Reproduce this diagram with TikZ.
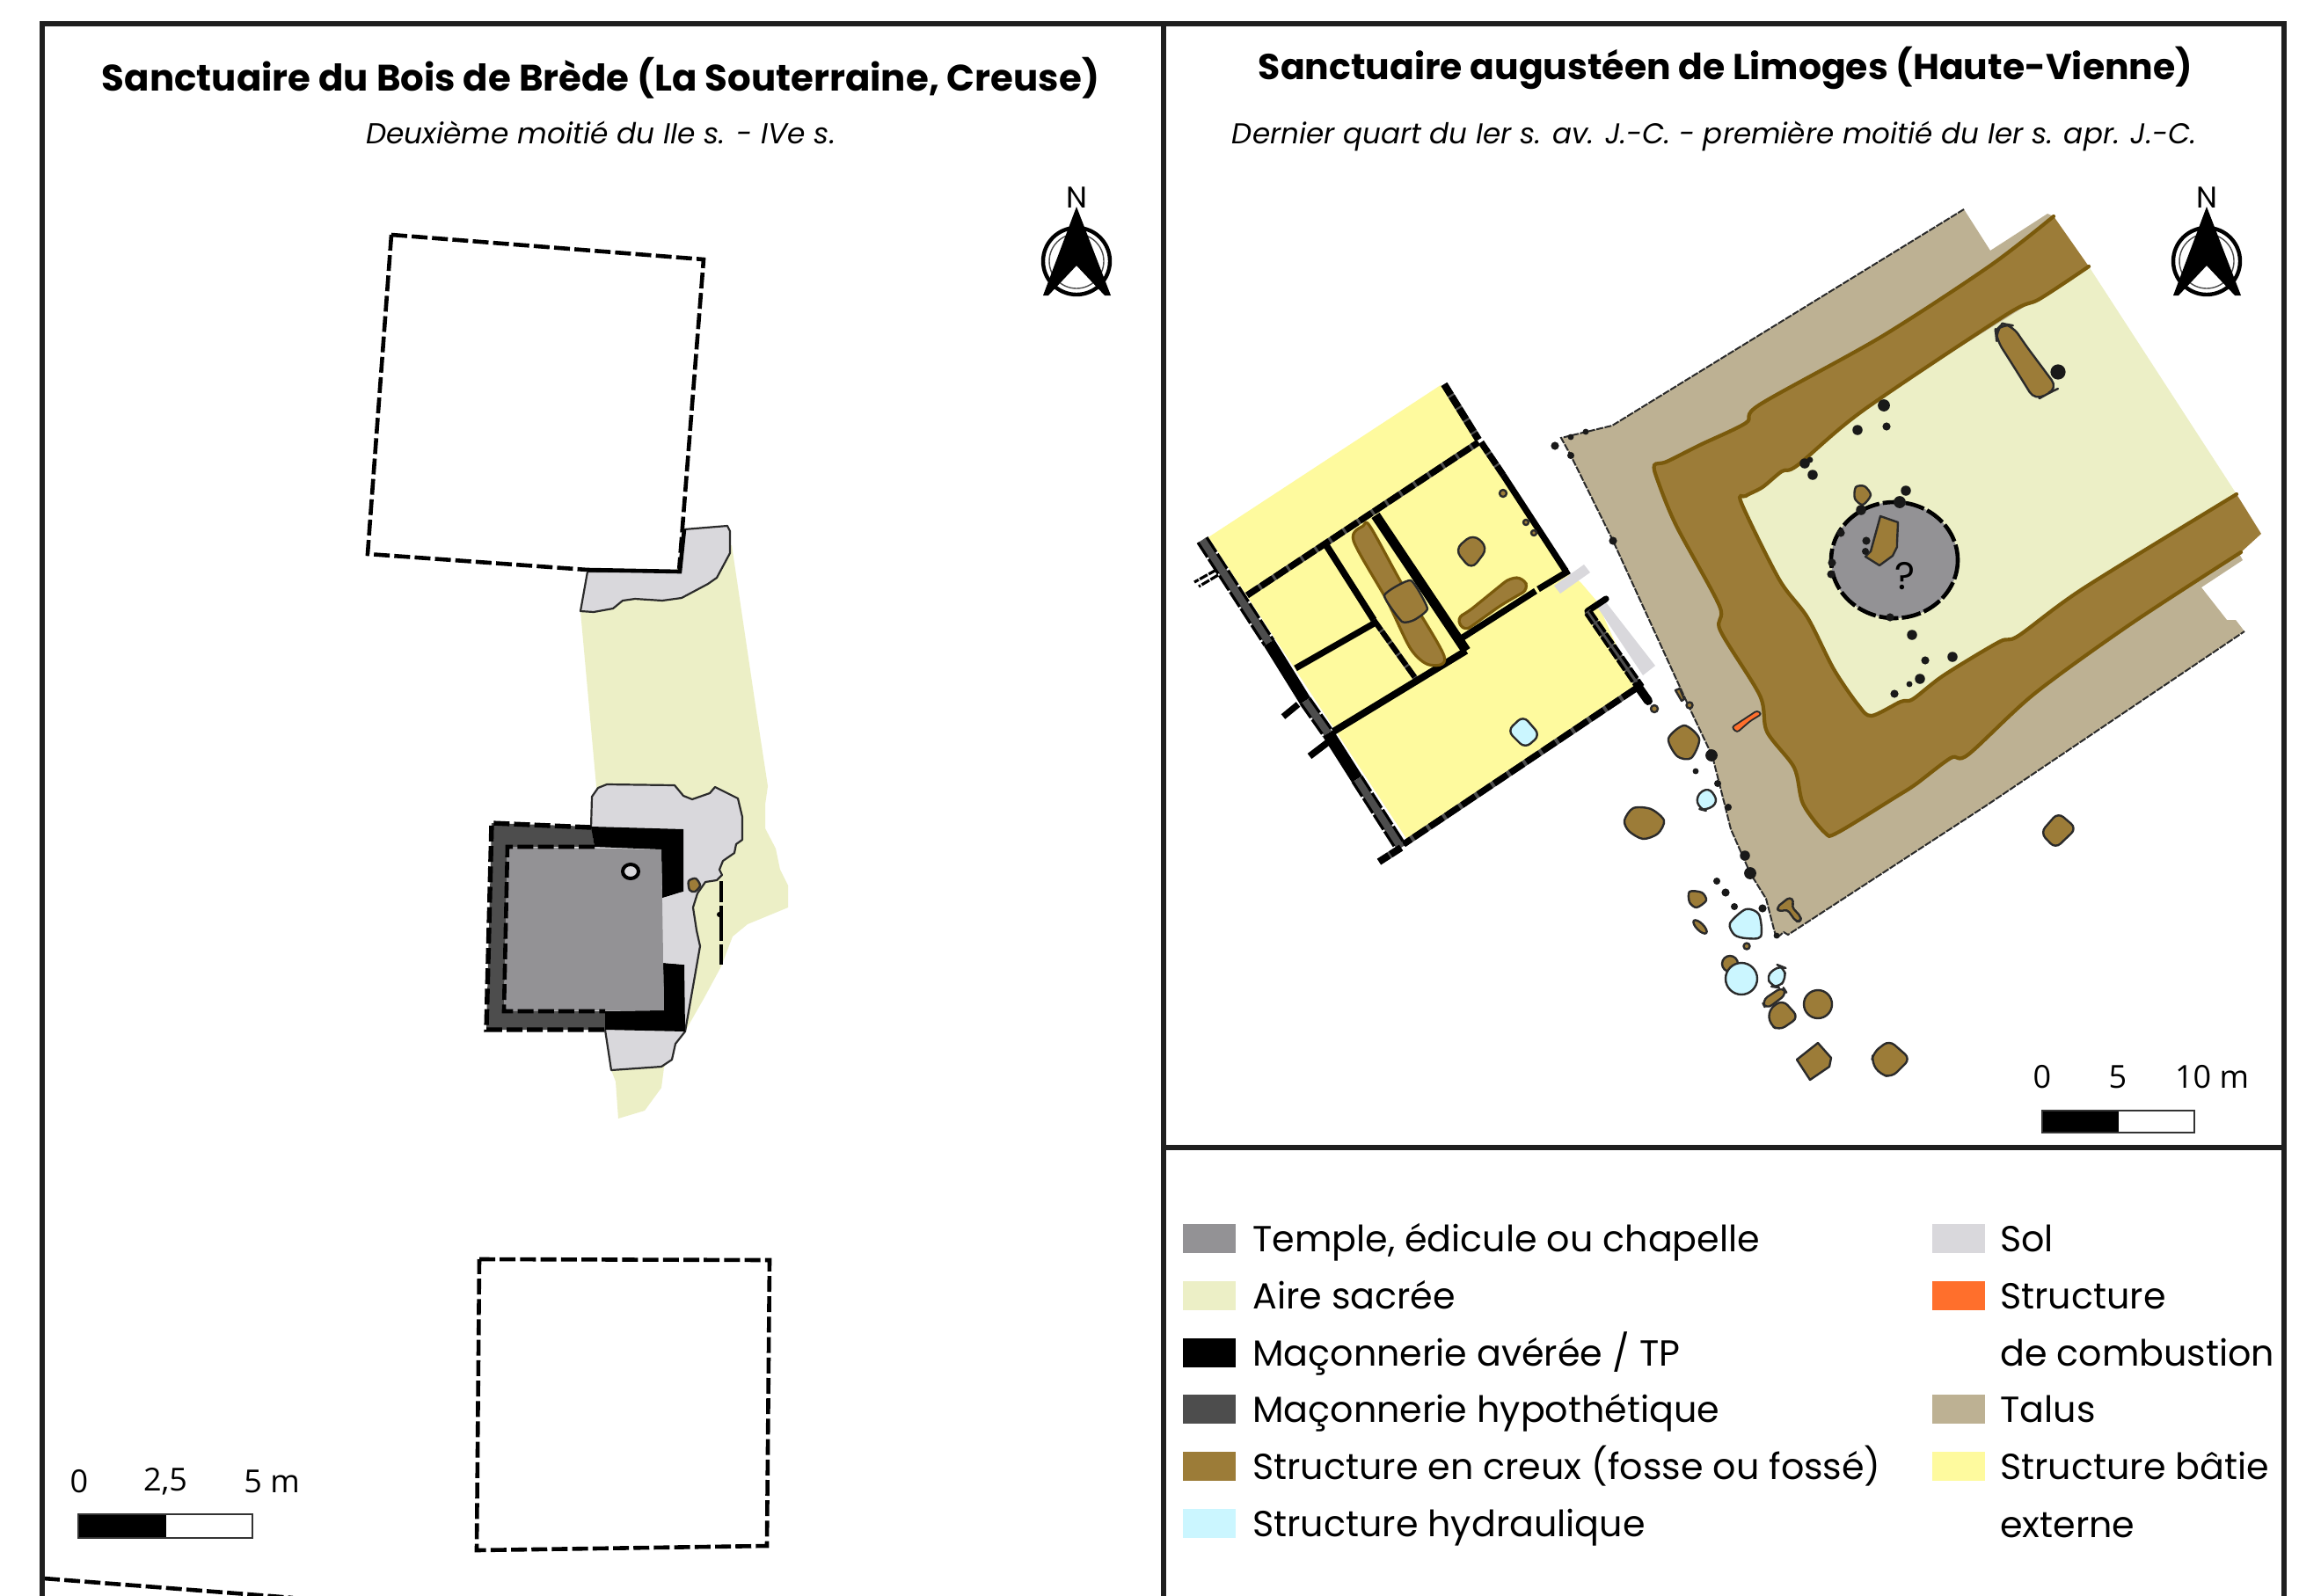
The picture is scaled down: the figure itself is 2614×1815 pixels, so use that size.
\documentclass[tikz,border=0pt]{standalone}
\usepackage{fontspec}
\usepackage{graphicx}
\setmainfont{Poppins}
\newfontfamily\scalefont{Open Sans}
\definecolor{ctemple}{HTML}{939295}
\definecolor{caire}{HTML}{ECEFC6}
\definecolor{cdark}{HTML}{4D4D4D}
\definecolor{cbrown}{HTML}{9C7C38}
\definecolor{cbrownline}{HTML}{7A5A0C}
\definecolor{ccyan}{HTML}{CBF6FF}
\definecolor{csol}{HTML}{D9D8DC}
\definecolor{corange}{HTML}{FF6F2C}
\definecolor{ctalus}{HTML}{BDB193}
\definecolor{cyell}{HTML}{FEFA9E}
\definecolor{cedge}{HTML}{2B2B2B}
\tikzset{
 frameline/.style={line width=3pt,draw=black!88},
 dashwall/.style={draw=black,line width=2.3pt,dash pattern=on 9pt off 2.6pt},
 dashwallb/.style={draw=black,line width=2.7pt,dash pattern=on 9pt off 2.6pt},
 hypwall/.style={draw=cdark,line width=3.6pt},
 hypdash/.style={draw=black,line width=3.6pt,dash pattern=on 7pt off 1.2pt},
 wall/.style={draw=black,line width=3.6pt},
 talusdash/.style={draw=cedge,line width=1pt,dash pattern=on 4pt off 0.8pt},
 solfill/.style={fill=csol,draw=cedge,line width=1.1pt,line join=round},
 blob/.style={fill=cbrown,draw=cedge,line width=1.2pt,line join=round},
 blobb/.style={fill=cbrown,draw=cbrownline,line width=1.6pt,line join=round},
 fosse/.style={draw=cbrownline,line width=2.1pt,line cap=round},
 cyanblob/.style={fill=ccyan,draw=cedge,line width=1.2pt,line join=round},
 dotc/.style={fill=black!90},
 swatch/.style={minimum width=30pt,minimum height=16.5pt,inner sep=0pt,anchor=west},
 legtext/.style={anchor=base west,inner sep=0pt,font=\fontsize{20.6pt}{22pt}\selectfont},
 scalelab/.style={inner sep=0pt,font=\scalefont\fontsize{18pt}{20pt}\selectfont},
 titlelab/.style={inner sep=0pt,anchor=base},
}
\begin{document}
\begin{tikzpicture}[x=0.5pt,y=-0.5pt]
\path[use as bounding box,fill=white] (0,0) rectangle (2614,1815);

% ---- left map ----
\draw[dashwall] (445,267) -- (800,295) -- (772,650);
\draw[dashwall] (445,267) -- (418,630) -- (668,648);
\fill[caire] (660,695) -- (678,894) -- (700,1150) -- (695,1217) -- (700,1230) -- (703,1272) -- (733,1263) -- (752,1237) -- (755,1214) -- (768,1187) -- (780,1171) -- (800,1136) -- (820,1099) -- (833,1065) -- (850,1051) -- (896,1032) -- (896,1007) -- (887,989) -- (882,965) -- (870,942) -- (870,915) -- (873,894) -- (860,809) -- (832,620) -- cycle;
\draw[solfill] (668,650) -- (660,695) -- (675,696) -- (697,692) -- (708,683) -- (722,681) -- (753,683) -- (775,680) -- (805,664) -- (815,657) -- (830,629) -- (830,604) -- (827,598) -- (778,602) -- (773,650) -- cycle;
\draw[wall,line width=2.3pt] (668,648) -- (773,650) -- (778,602);
\draw[solfill] (672,942) -- (673,906) -- (680,896) -- (690,892) -- (767,893) -- (777,905) -- (787,909) -- (807,902) -- (813,895) -- (839,908) -- (844,929) -- (844,955) -- (837,960) -- (835,970) -- (822,979) -- (818,989) -- (821,995) -- (815,1001) -- (802,1003) -- (793,1016) -- (788,1032) -- (792,1058) -- (796,1076) -- (779,1173) -- (768,1187) -- (764,1205) -- (752,1213) -- (695,1217) -- (688,1171) -- cycle;
\fill[cdark] (559,936) -- (672,940) -- (676,963) -- (577,963) -- (573,1150) -- (688,1150) -- (688,1171) -- (553,1171) -- cycle;
\fill[black] (672,940) -- (777,943) -- (777,1014) -- (753,1021) -- (752,966) -- (676,963) -- cycle;
\fill[black] (754,1095) -- (778,1097) -- (779,1173) -- (688,1171) -- (688,1150) -- (755,1149) -- cycle;
\fill[ctemple] (577,963) -- (752,966) -- (755,1149) -- (573,1150) -- cycle;
\fill[csol] (755,1021) -- (773,1015) -- (778,1014) -- (778,1097) -- (754,1095) -- cycle;
\draw[dashwallb] (672,941) -- (559,936) -- (553,1171) -- (688,1171);
\draw[dashwall] (676,963) -- (577,963) -- (573,1150) -- (688,1150);
\draw[draw=black,line width=2pt,fill=csol] (717,991) ellipse [x radius=9,y radius=8];
\draw[blob] plot[smooth cycle] coordinates {(783,1002) (791,999) (796,1007) (790,1014) (784,1012)};
\draw[dashwall,dash pattern=on 12pt off 2pt on 20pt off 2pt on 20pt off 2pt] (820,1002) -- (820,1097);
\fill[black] (818,1040) circle [radius=3];
\draw[dashwall] (545,1432) -- (875,1433) -- (872,1758) -- (542,1763) -- cycle;
\draw[dashwall] (50,1795) -- (333,1817);
% scale left
\fill[black] (89,1722) rectangle (189,1749);
\draw[draw=black!80,line width=1pt] (89,1722) rectangle (287,1749);
\node[scalelab] (sl0) at (90,1685) {0};
\node[scalelab] (sl1) at (188,1685) {2,5};
\node[scalelab,anchor=west] (sl2) at (277,1685) {5 m};
% north left
\draw[draw=black,line width=2.2pt] (1224,297) circle [radius=38];
\draw[draw=black!70,line width=0.7pt] (1224,297) circle [radius=31];
\fill[black] (1224,235) -- (1263,336) -- (1256,336) -- (1224,302) -- (1192,336) -- (1186,336) -- cycle;
\node[inner sep=0pt,font=\fontsize{17pt}{18pt}\selectfont] (nl) at (1224,225) {N};

% ---- right map ----
\draw[fill=ctalus,draw=none] (2233,238) -- (2263,285) -- (2328,243) -- (2335,246) -- (2550,637) -- (2503,668) -- (2532,705) -- (2542,705) -- (2552,718) -- (2260,915) -- (2033,1063) -- (2028,1060) -- (2020,1067) -- (2017,1057) -- (2008,1022) -- (1990,993) -- (1968,943) -- (1963,923) -- (1947,860) -- (1920,803) -- (1834,615) -- (1786,518) -- (1775,498) -- (1833,484) -- cycle;
\draw[talusdash] (2233,238) -- (1833,484) -- (1775,498) -- (1786,518) -- (1834,615) -- (1920,803) -- (1947,860) -- (1963,923) -- (1968,943) -- (1990,993) -- (2008,1022) -- (2017,1057) -- (2020,1067) -- (2028,1060) -- (2033,1063) -- (2260,915) -- (2552,718);
\fill[caire] (2375,303) -- (2543,562) -- (2128,830) -- (1965,560) -- cycle;
\fill[cbrown] plot[smooth] coordinates {(2335,246) (2263,302) (2139,383) (2001,460) (1985,481) (1933,506) (1895,525) (1881,529) (1885,547) (1906,598) (1955,689) (1956,717) (2001,791) (2009,832) (2040,873) (2050,914) (2075,947) (2089,947) (2156,906) (2178,892) (2218,862) (2238,858) (2313,789) (2422,710) (2548,628)} -- (2571,607) -- plot[smooth] coordinates {(2543,562) (2369,669) (2295,723) (2273,730) (2210,768) (2175,795) (2161,798) (2128,814) (2113,802) (2085,761) (2055,702) (2023,659) (1980,572) (1985,564) (2004,554) (2026,536) (2044,529) (2118,467) (2281,358) (2319,340) (2375,303)} -- cycle;
\draw[fosse] plot[smooth] coordinates {(2335,246) (2263,302) (2139,383) (2001,460) (1985,481) (1933,506) (1895,525) (1881,529) (1885,547) (1906,598) (1955,689) (1956,717) (2001,791) (2009,832) (2040,873) (2050,914) (2075,947) (2089,947) (2156,906) (2178,892) (2218,862) (2238,858) (2313,789) (2422,710) (2548,628)};
\draw[fosse] plot[smooth] coordinates {(2543,562) (2369,669) (2295,723) (2273,730) (2210,768) (2175,795) (2161,798) (2128,814) (2113,802) (2085,761) (2055,702) (2023,659) (1980,572) (1985,564) (2004,554) (2026,536) (2044,529) (2118,467) (2281,358) (2319,340) (2375,303)};
% temple circle
\draw[fill=ctemple,draw=black,line width=2.3pt,dash pattern=on 11pt off 2pt] (2154,637) ellipse [x radius=72,y radius=66];
\draw[blob] (2138,587) -- (2158,594) -- (2157,617) -- (2157,622) -- (2152,632) -- (2137,643) -- (2121,633) -- (2127,627) -- cycle;
\draw[blob] plot[smooth cycle] coordinates {(2110,554) (2120,553) (2127,563) (2118,574) (2109,567)};
\node[inner sep=0pt,font=\fontsize{22pt}{24pt}\selectfont] (qm) at (2166,655) {?};
\draw[blob,rounded corners=6pt] (2270,386) -- (2269,376) -- (2277,368) -- (2288,370) -- (2302,391) -- (2340,442) -- (2329,447) -- (2314,456) -- (2291,419) -- cycle;
\draw[blob,rounded corners=4pt] (2340,924) -- (2361,942) -- (2337,965) -- (2320,947) -- cycle;
\foreach \x/\y/\r in {2052/527/5,2058/523/3,2061/540/5,2167/558/5,2160/571/6,2116/580/5,2093/606/4,2122/615/4,2121/627/3.5,2083/640/4,2082/653/4,2149/702/4,2174/722/5,2189/751/4,2220/747/5,2183/772/5,2171/778/3,2154/789/4,2340/423/7.5,2142/461/6,2112/489/5,2145/485/4,1768/507/4,1786/497/3,1803/491/3,1786/518/3.5,1834/615/4,1946/859/6,1928/877/3,1953/891/3.5,1965/918/3.5,1984/973/5,1990/993/6,1952/1002/3.5,1962/1015/4,1972/1031/3.5,2004/1033/4,2020/1064/3}
  {\fill[dotc] (\x,\y) circle [radius={\r*1.15}];}
% blobs along the talus
\draw[blob] plot[smooth cycle] coordinates {(1897,840) (1915,825) (1932,840) (1923,862) (1907,860)};
\draw[cyanblob,rounded corners=4pt] (1928,905) -- (1943,895) -- (1954,912) -- (1940,922) -- (1932,920) -- cycle;
\draw[blob] plot[smooth cycle] coordinates {(1857,919) (1877,920) (1892,933) (1885,948) (1868,954) (1852,945) (1847,933)};
\draw[blob] plot[smooth cycle] coordinates {(1921,1014) (1935,1015) (1940,1024) (1929,1032) (1921,1026)};
\draw[blob,rotate around={-45:(1933,1054)}] (1933,1054) ellipse [x radius=10,y radius=4];
\draw[cyanblob] plot[smooth cycle] coordinates {(1967,1050) (1985,1034) (2000,1040) (2002,1065) (1985,1067) (1972,1063)};
\draw[blob] (1986,1076) circle [radius=3.5];
\draw[blob] (1967,1096) circle [radius=9];
\draw[cyanblob] (1980,1113) circle [radius=18];
\draw[cyanblob,rounded corners=4pt] (2008,1110) -- (2023,1098) -- (2028,1100) -- (2031,1113) -- (2022,1123) -- (2015,1122) -- cycle;
\draw[blob,rounded corners=4pt] (2027,1137) -- (2045,1157) -- (2023,1172) -- (2012,1165) -- (2011,1148) -- cycle;
\draw[blob,rounded corners=4pt] (2003,1138) -- (2027,1122) -- (2032,1130) -- (2008,1148) -- cycle;
\draw[blob] (2067,1142) circle [radius=16];
\draw[blob] (2067,1186) -- (2082,1203) -- (2080,1213) -- (2058,1228) -- (2043,1205) -- cycle;
\draw[blob,rounded corners=4pt] (2148,1183) -- (2172,1204) -- (2151,1225) -- (2138,1222) -- (2128,1208) -- (2130,1197) -- cycle;
\draw[blob,rounded corners=2pt] (2020,1032) -- (2035,1020) -- (2040,1025) -- (2037,1031) -- (2048,1043) -- (2047,1048) -- (2042,1048) -- (2032,1034) -- (2023,1037) -- cycle;
\draw[fill=corange,draw=cedge,line width=0.9pt,rounded corners=1.5pt] (1969,827) -- (1998,808) -- (2003,812) -- (1990,820) -- (1975,833) -- cycle;
\draw[blob] (1905,785) -- (1910,783) -- (1915,795) -- (1912,797) -- cycle;
\draw[blob] (1921,802) circle [radius=3.5];
\draw[blob] (1881,806) circle [radius=4];

% building
\fill[cyell] (1374,611) -- (1638,438) -- (1778,648) -- (1797,662) -- (1815,683) -- (1860,783) -- (1600,955) -- cycle;
\fill[csol] (1767,666) -- (1801,642) -- (1808,651) -- (1774,675) -- cycle;
\fill[csol] (1816,690) -- (1826,685) -- (1882,757) -- (1868,768) -- cycle;
% west wall
\draw[hypwall,line width=5pt] (1367,614) -- (1443,731);
\draw[wall,line width=7pt] (1443,731) -- (1484,797);
\draw[hypwall,line width=5pt] (1484,797) -- (1510,834);
\draw[wall,line width=7pt] (1510,834) -- (1543,886);
\draw[hypwall,line width=5pt] (1543,886) -- (1593,964);
\draw[draw=black,line width=1.6pt,dash pattern=on 10pt off 1.2pt] (1372,611) -- (1448,728);
\draw[draw=black,line width=1.6pt,dash pattern=on 10pt off 1.2pt] (1362,617) -- (1438,734);
\draw[draw=black,line width=1.6pt,dash pattern=on 10pt off 1.2pt] (1489,794) -- (1515,831);
\draw[draw=black,line width=1.6pt,dash pattern=on 10pt off 1.2pt] (1479,800) -- (1505,837);
\draw[draw=black,line width=1.6pt,dash pattern=on 10pt off 1.2pt] (1548,883) -- (1598,961);
\draw[draw=black,line width=1.6pt,dash pattern=on 10pt off 1.2pt] (1538,889) -- (1588,967);
\draw[wall,line width=1.6pt,dash pattern=on 5pt off 0.8pt] (1383,648) -- (1358,662);
\draw[wall,line width=1.6pt,dash pattern=on 5pt off 0.8pt] (1385,654) -- (1363,667);
\draw[wall] (1476,801) -- (1459,815);
\draw[wall,line width=3.8pt] (1510,844) -- (1489,860);
\draw[hypwall,line width=4pt] (1593,964) -- (1568,980);
\draw[hypdash,line width=4pt] (1593,964) -- (1568,980);
% walls
\draw[hypwall,line width=4pt] (1642,437) -- (1681,500);
\draw[hypdash,line width=4pt] (1642,437) -- (1681,500);
\draw[hypwall] (1684,503) -- (1709,540);
\draw[hypdash] (1684,503) -- (1709,540);
\draw[wall] (1709,540) -- (1780,649);
\draw[hypwall] (1418,677) -- (1681,503);
\draw[hypdash,dash pattern=on 8pt off 1.6pt] (1418,677) -- (1681,503);
\draw[wall,line width=3.8pt] (1508,620) -- (1562,705);
\draw[hypwall,line width=3pt] (1562,705) -- (1612,775);
\draw[hypdash,line width=3pt,dash pattern=on 7pt off 1.2pt] (1562,705) -- (1612,775);
\draw[wall,line width=5.5pt] (1564,586) -- (1667,740);
\draw[wall,line width=4pt] (1667,740) -- (1516,832);
\draw[wall] (1663,725) -- (1746,672);
\draw[wall] (1749,670) -- (1784,649);
\draw[wall] (1473,760) -- (1564,708);
\draw[hypwall] (1860,783) -- (1596,960);
\draw[hypdash,dash pattern=on 9pt off 2pt] (1860,783) -- (1596,960);
\draw[wall,line cap=round] (1826,681) -- (1805,695);
\draw[hypwall,line width=4pt] (1805,695) -- (1865,782);
\draw[hypdash,line width=1.8pt,dash pattern=on 7pt off 1pt] (1808,694) -- (1868,780);
\draw[hypdash,line width=1.8pt,dash pattern=on 7pt off 1pt] (1803,698) -- (1862,784);
\draw[wall,line width=5pt,line cap=round] (1862,780) -- (1874,797);
% brown in the building
\draw[blobb] plot[smooth cycle] coordinates {(1539,615) (1550,598) (1558,599) (1594,664) (1642,746) (1625,756) (1604,738) (1577,683)};
\draw[blob] plot[smooth cycle,tension=0.3] coordinates {(1574,677) (1604,660) (1623,692) (1608,705) (1594,707)};
\draw[blob,rounded corners=5pt] (1675,607) -- (1692,623) -- (1673,648) -- (1654,625) -- cycle;
\draw[blobb,rounded corners=4pt] (1656,703) -- (1669,696) -- (1717,657) -- (1732,657) -- (1738,670) -- (1707,688) -- (1665,718) -- cycle;
\draw[cyanblob,rounded corners=4pt] (1732,814) -- (1751,836) -- (1734,851) -- (1714,831) -- cycle;
\draw[blob] (1709,561) circle [radius=4];
\draw[blob] (1735,594) circle [radius=3];
\draw[blob] (1744,606) circle [radius=3];

% scale right
\fill[black] (2322,1263) rectangle (2409,1288);
\draw[draw=black!80,line width=1pt] (2322,1263) rectangle (2495,1288);
\node[scalelab] (sr0) at (2322,1225) {0};
\node[scalelab] (sr1) at (2408,1225) {5};
\node[scalelab] (sr2) at (2515,1225) {10 m};
% north right
\draw[draw=black,line width=2.2pt] (2509,297) circle [radius=38];
\draw[draw=black!70,line width=0.7pt] (2509,297) circle [radius=31];
\fill[black] (2509,235) -- (2548,336) -- (2541,336) -- (2509,302) -- (2477,336) -- (2471,336) -- cycle;
\node[inner sep=0pt,font=\fontsize{17pt}{18pt}\selectfont] (nr) at (2509,225) {N};

% frames
\draw[frameline] (48,1815) -- (48,27) -- (2597,27) -- (2597,1815);
\draw[frameline] (1323,27) -- (1323,1815);
\draw[frameline] (1323,1305) -- (2597,1305);

% titles
\node[titlelab] (t1) at (683,103) {\resizebox{567pt}{!}{\bfseries Sanctuaire du Bois de Brède (La Souterraine, Creuse)}};
\node[titlelab] (s1) at (683,163) {\resizebox{267pt}{!}{\itshape Deuxième moitié du IIe s. - IVe s.}};
\node[titlelab] (t2) at (1962,90) {\resizebox{531pt}{!}{\bfseries Sanctuaire augustéen de Limoges (Haute-Vienne)}};
\node[titlelab] (s2) at (1949,163) {\resizebox{548pt}{!}{\itshape Dernier quart du Ier s. av. J.-C. - première moitié du Ier s. apr. J.-C.}};

% legend
\foreach \n/\y/\c in {a/1408/ctemple,b/1473/caire,c/1538/black,d/1602/cdark,e/1667/cbrown,f/1732/ccyan}
  {\node[swatch,fill=\c] (sw\n) at (1345,\y) {};}
\foreach \n/\y/\c in {g/1408/csol,h/1473/corange,i/1602/ctalus,j/1667/cyell}
  {\node[swatch,fill=\c] (sw\n) at (2197,\y) {};}
\node[legtext] (la) at (1424,1423) {Temple, édicule ou chapelle};
\node[legtext] (lb) at (1424,1488) {Aire sacrée};
\node[legtext] (lc) at (1424,1553) {Maçonnerie avérée / TP};
\node[legtext] (ld) at (1424,1617) {Maçonnerie hypothétique};
\node[legtext] (le) at (1424,1682) {Structure en creux (fosse ou fossé)};
\node[legtext] (lf) at (1424,1747) {Structure hydraulique};
\node[legtext] (lg) at (2274,1423) {Sol};
\node[legtext] (lh) at (2274,1488) {Structure};
\node[legtext] (lh2) at (2274,1553) {de combustion};
\node[legtext] (li) at (2274,1617) {Talus};
\node[legtext] (lj) at (2274,1682) {Structure bâtie};
\node[legtext] (lj2) at (2274,1748) {externe};
\end{tikzpicture}
\end{document}
